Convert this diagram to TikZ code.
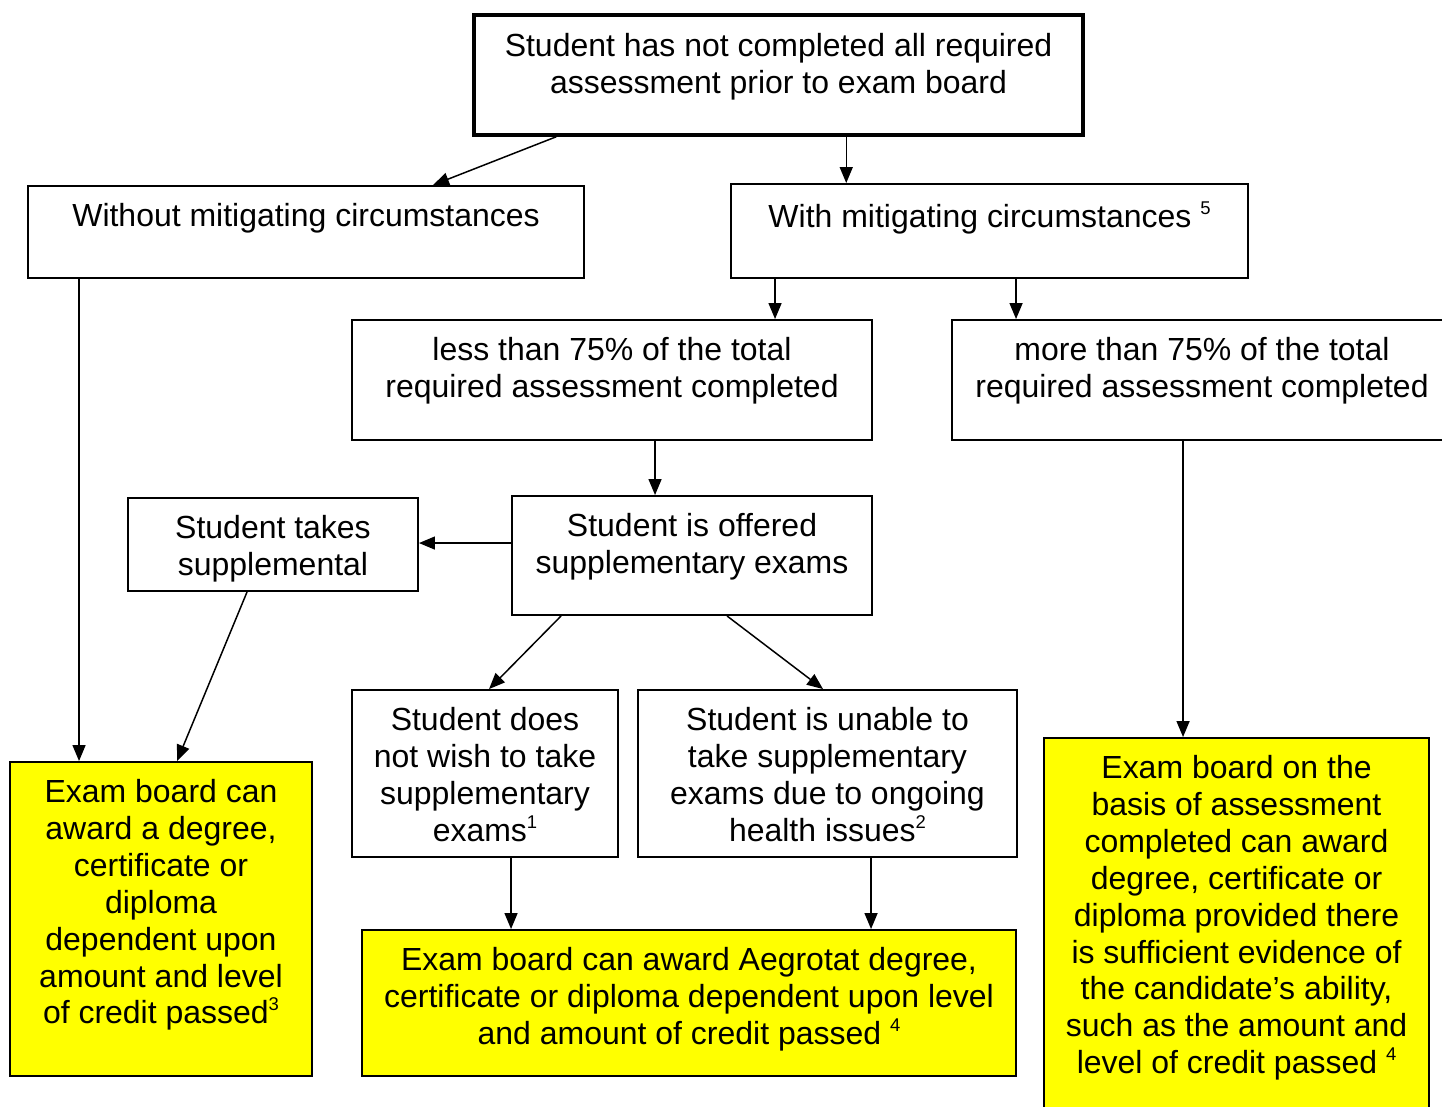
\documentclass[tikz,border=0pt]{standalone}
\usepackage{fontspec}
\setmainfont{Liberation Sans}
\usetikzlibrary{positioning,fit,calc,arrows.meta}
\definecolor{ylw}{RGB}{255,255,0}
\newcommand\fnote[1]{\raisebox{7.4pt}{\fontsize{10.5}{10.5}\selectfont #1}}
\tikzset{
  box/.style={draw,line width=1.1pt,inner sep=0pt},
  ybox/.style={box,fill=ylw},
  txt/.style={align=center,inner sep=0pt,font=\fontsize{18.2}{21}\selectfont},
  arr/.style={line width=0.85pt,-{Triangle[length=0.32cm,width=0.26cm]}}
}
\begin{document}
\begin{tikzpicture}[x=0.02cm,y=-0.02cm]% toa do tinh theo diem anh
  \useasboundingbox (0,0) rectangle (1442,1106);
  % cac hop
  \node[box,line width=2pt,fit={(474,15) (1083,135)}] (top) {};
  \node[box,fit={(28,186) (584,278)}] (without) {};
  \node[box,fit={(731,184) (1248,278)}] (with) {};
  \node[box,fit={(352,320) (872,440)}] (less) {};
  \node[box,fit={(952,320) (1452,440)}] (more) {};
  \node[box,fit={(128,498) (418,591)}] (takes) {};
  \node[box,fit={(512,496) (872,615)}] (offered) {};
  \node[box,fit={(352,690) (618,857)}] (notwish) {};
  \node[box,fit={(638,690) (1017,857)}] (unable) {};
  \node[ybox,fit={(10,762) (312,1076)}] (yleft) {};
  \node[ybox,fit={(362,930) (1016,1076)}] (ymid) {};
  \node[ybox,fit={(1044,738) (1429,1116)}] (yright) {};
  % chu trong hop
  \node[txt,below=0.4cm of top.north] (topT) {Student has not completed all required\\assessment prior to exam board};
  \node[txt,below=0.36cm of without.north] (withoutT) {Without mitigating circumstances};
  \node[txt,below=0.36cm of with.north] (withT) {With mitigating circumstances \fnote{5}};
  \node[txt,below=0.36cm of less.north] (lessT) {less than 75\% of the total\\required assessment completed};
  \node[txt,below=0.36cm of more.north] (moreT) {more than 75\% of the total\\required assessment completed};
  \node[txt,below=0.36cm of takes.north] (takesT) {Student takes\\supplemental};
  \node[txt,below=0.36cm of offered.north] (offeredT) {Student is offered\\supplementary exams};
  \node[txt,below=0.36cm of notwish.north] (notwishT) {Student does\\not wish to take\\supplementary\\exams\fnote{1}};
  \node[txt,below=0.36cm of unable.north] (unableT) {Student is unable to\\take supplementary\\exams due to ongoing\\health issues\fnote{2}};
  \node[txt,below=0.36cm of yleft.north] (yleftT) {Exam board can\\award a degree,\\certificate or\\diploma\\dependent upon\\amount and level\\of credit passed\fnote{3}};
  \node[txt,below=0.36cm of ymid.north] (ymidT) {Exam board can award Aegrotat degree,\\certificate or diploma dependent upon level\\and amount of credit passed \fnote{4}};
  \node[txt,below=0.36cm of yright.north] (yrightT) {Exam board on the\\basis of assessment\\completed can award\\degree, certificate or\\diploma provided there\\is sufficient evidence of\\the candidate’s ability,\\such as the amount and\\level of credit passed \fnote{4}};
  % mui ten
  \draw[arr] ($(top.south west)+(84,0)$) -- ($(without.north west)+(406,0)$);
  \draw[arr] ($(top.south west)+(374,0)$) coordinate (a) -- (a |- with.north);
  \draw[arr] ($(without.south west)+(52,0)$) coordinate (a) -- (a |- yleft.north);
  \draw[arr] ($(with.south west)+(45,0)$) coordinate (a) -- (a |- less.north);
  \draw[arr] ($(with.south west)+(286,0)$) coordinate (a) -- (a |- more.north);
  \draw[arr] ($(less.south west)+(304,0)$) coordinate (a) -- (a |- offered.north);
  \draw[arr] ($(offered.north west)+(0,48)$) coordinate (a) -- (a -| takes.east);
  \draw[arr] ($(takes.south west)+(120,0)$) -- ($(yleft.north west)+(168,0)$);
  \draw[arr] ($(offered.south west)+(50,0)$) -- ($(notwish.north west)+(138,0)$);
  \draw[arr] ($(offered.south west)+(216,0)$) -- ($(unable.north west)+(186,0)$);
  \draw[arr] ($(notwish.south west)+(160,0)$) coordinate (a) -- (a |- ymid.north);
  \draw[arr] ($(unable.south west)+(234,0)$) coordinate (a) -- (a |- ymid.north);
  \draw[arr] ($(more.south west)+(232,0)$) coordinate (a) -- (a |- yright.north);
\end{tikzpicture}
\end{document}
